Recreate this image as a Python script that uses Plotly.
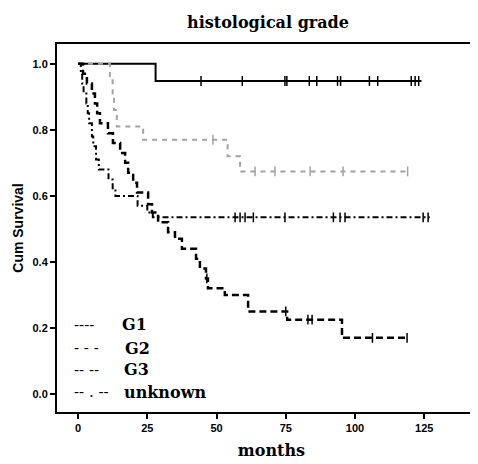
import plotly.graph_objects as go

# ---- data (months, cumulative survival) ----
g1_months = [0, 28, 124]
g1_surv = [1.0, 0.948, 0.948]
g1_censor = [44.4, 59.3, 74.7, 75.4, 83.5, 86.2, 93.7, 94.8, 105.2, 108.2, 120.3, 121.7, 123.0]

g2_months = [0, 11.5, 12.5, 13.0, 14.0, 23.5, 54.0, 58.5, 120]
g2_surv = [1.0, 0.95, 0.91, 0.86, 0.81, 0.77, 0.72, 0.674, 0.674]
g2_censor = [48.7, 63.9, 71.1, 83.8, 95.7, 119.0]

g3_months = [0, 1.8, 3.2, 5.0, 6.1, 6.9, 7.9, 10.8, 12.6, 15.2, 17.0, 18.1, 19.9, 21.3,
             25.3, 26.7, 28.9, 32.5, 35.0, 37.5, 42.6, 44.0, 46.2, 46.9, 53.0, 61.4,
             75.5, 95.3, 119.0]
g3_surv = [1.0, 0.97, 0.94, 0.91, 0.88, 0.85, 0.82, 0.79, 0.76, 0.73, 0.70, 0.67, 0.64, 0.61,
           0.575, 0.55, 0.52, 0.49, 0.47, 0.44, 0.41, 0.38, 0.35, 0.32, 0.30, 0.25,
           0.225, 0.17, 0.17]
g3_censor = [46.5, 75.0, 83.0, 84.5, 106.3, 118.8]

unk_months = [0, 1.0, 1.5, 2.0, 3.0, 3.5, 4.0, 5.0, 5.5, 6.5, 7.5, 11.0, 12.5, 13.5,
              21.5, 25.0, 27.0, 127.0]
unk_surv = [1.0, 0.97, 0.94, 0.91, 0.88, 0.85, 0.82, 0.78, 0.75, 0.71, 0.68, 0.65, 0.62, 0.60,
            0.57, 0.55, 0.535, 0.535]
unk_censor = [56.7, 58.5, 60.3, 63.3, 74.7, 92.2, 94.6, 96.4, 124.6, 126.4]

legend_labels = ["G1", "G2", "G3", "unknown"]
legend_marks = ["----", "- - -", "-- --", "-- . --"]

x_ticks = [0, 25, 50, 75, 100, 125]
y_ticks = [0.0, 0.2, 0.4, 0.6, 0.8, 1.0]


def surv_at(months, surv, t):
    s = surv[0]
    for m, v in zip(months, surv):
        if m <= t:
            s = v
    return s


series = [
    (g1_months, g1_surv, g1_censor, "black", "solid", 2),
    (g2_months, g2_surv, g2_censor, "#a3a3a3", "5px,5px", 2),
    (g3_months, g3_surv, g3_censor, "black", "7px,4px", 2.5),
    (unk_months, unk_surv, unk_censor, "black", "6px,3px,2px,3px", 2),
]

fig = go.Figure()
for (m, s, c, col, dash, w), name in zip(series, legend_labels):
    fig.add_trace(go.Scatter(x=m, y=s, mode="lines", line=dict(color=col, dash=dash, width=w, shape="hv"),
                             name=name, showlegend=False))
    fig.add_trace(go.Scatter(x=c, y=[surv_at(m, s, t) for t in c], mode="markers",
                             marker=dict(symbol="line-ns-open", size=7, color=col,
                                         line=dict(color=col, width=1.5)),
                             showlegend=False))

serif = "DejaVu Serif"
leg_y = [0.209, 0.139, 0.073, 0.006]
leg_x = [15.2, 16.2, 15.9, 15.9]
for mark, lab, yy, xx in zip(legend_marks, legend_labels, leg_y, leg_x):
    fig.add_annotation(x=-2.2, y=yy, text=mark, showarrow=False, xanchor="left", yanchor="middle",
                       font=dict(family=serif, size=15, color="black"))
    fig.add_annotation(x=xx, y=yy, text="<b>" + lab + "</b>", showarrow=False, xanchor="left",
                       yanchor="middle", font=dict(family=serif, size=16, color="black"))

fig.update_layout(
    width=478, height=464,
    margin=dict(l=49, r=0, t=36, b=60),
    paper_bgcolor="white", plot_bgcolor="white",
    title=dict(text="<b>histological grade</b>", x=0.544, xanchor="center", y=0.97, yanchor="middle",
               font=dict(family=serif, size=16, color="black")),
    xaxis=dict(range=[-7.6, 147.3], tickvals=x_ticks, ticktext=[str(v) for v in x_ticks],
               ticks="outside", ticklen=5, tickwidth=2, tickcolor="black",
               showline=True, linecolor="black", linewidth=2, mirror=True,
               showgrid=False, zeroline=False, automargin=False,
               tickfont=dict(family="Liberation Sans", size=11, color="black", weight="bold"),
               title=dict(text="<b>months</b>", standoff=12, font=dict(family=serif, size=16, color="black"))),
    yaxis=dict(range=[-0.0545, 1.06], tickvals=y_ticks, ticktext=["%.1f" % v for v in y_ticks],
               ticks="outside", ticklen=5, tickwidth=2, tickcolor="black",
               showline=True, linecolor="black", linewidth=2, mirror=False,
               showgrid=False, zeroline=False, automargin=False,
               tickfont=dict(family="Liberation Sans", size=11, color="black", weight="bold"),
               title=dict(text="<b>Cum Survival</b>", standoff=6,
                          font=dict(family="Liberation Sans", size=14, color="black"))),
)

fig.write_html("out.html")
